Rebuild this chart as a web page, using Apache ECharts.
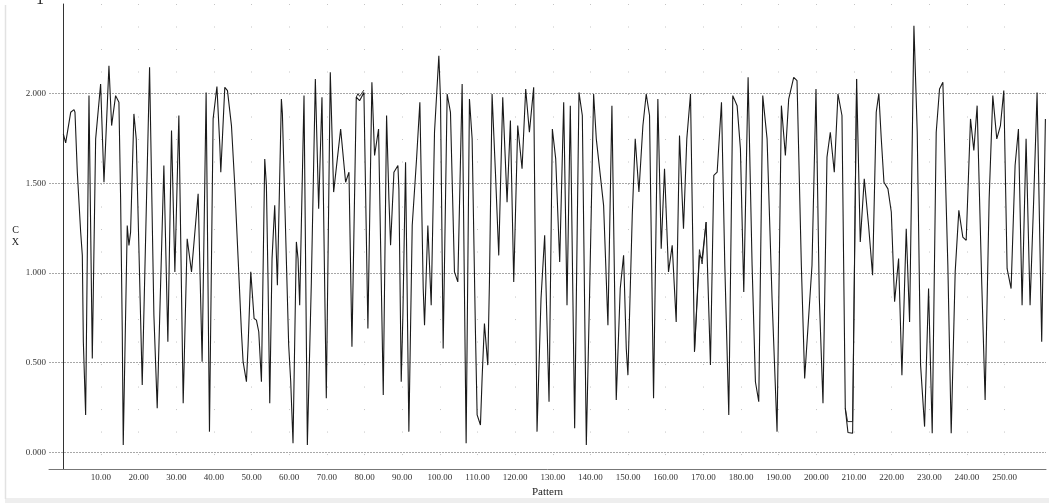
<!DOCTYPE html>
<html>
<head>
<meta charset="utf-8">
<script src="https://cdn.jsdelivr.net/npm/echarts@6/dist/echarts.min.js"></script>
<style>
html,body{margin:0;padding:0;background:#fff;}
#chart{width:1049px;height:503px;}
</style>
</head>
<body>
<div id="chart"></div>
<script>
// Pattern (x) values of the traced vertices, series A
var patternX = [0.0,0.63,1.96,2.84,3.1,3.72,4.61,5.05,5.32,5.93,6.82,7.7,8.59,9.91,10.8,12.12,12.83,13.89,14.77,15.22,15.66,15.92,16.98,17.43,17.87,18.75,19.37,20.96,22.91,24.06,24.94,26.71,27.77,28.74,29.63,30.69,31.84,32.9,34.05,35.81,36.87,37.93,38.82,39.79,40.8,41.57,41.83,42.89,43.6,44.66,45.54,46.43,47.31,47.75,48.64,49.08,49.79,50.67,51.29,51.91,52.62,53.5,53.94,54.38,54.83,55.44,56.15,56.86,57.92,58.19,58.8,59.86,60.4,61.01,61.9,62.34,62.78,63.93,64.82,65.88,66.94,67.82,68.7,69.85,70.91,71.8,73.66,74.98,75.87,76.66,77.81,78.69,79.84,80.9,81.96,82.67,83.73,84.98,85.86,86.48,86.92,87.81,88.87,89.13,89.75,90.19,90.9,91.78,92.67,93.82,94.7,95.59,95.94,96.82,97.71,98.59,99.74,100.18,100.89,101.95,102.83,103.89,104.78,105.93,106.99,107.87,108.58,109.46,109.91,110.79,111.23,111.85,112.74,113.18,113.88,114.77,115.65,116.71,117.86,118.75,119.63,120.69,121.84,122.81,123.79,124.93,125.82,126.88,127.85,129.01,129.89,130.78,131.84,132.9,133.78,134.66,135.81,136.96,137.85,138.91,139.79,140.85,141.56,143.5,144.65,145.71,146.86,147.92,148.81,149.52,149.96,151.11,151.9,152.88,153.94,154.82,155.7,156.77,157.91,158.8,159.68,160.74,161.72,162.78,163.66,164.72,165.6,166.58,167.64,168.96,169.67,170.73,171.88,172.77,173.66,174.81,175.69,176.75,177.81,178.96,179.84,180.73,181.88,182.94,183.82,184.71,185.77,186.92,188.24,189.57,190.72,191.78,192.66,193.99,194.87,196.02,196.9,198.85,199.91,200.8,201.77,202.83,203.71,204.77,205.75,206.81,207.69,208.4,209.64,210.7,211.67,212.73,213.88,214.94,215.91,216.6,217.25,217.96,219.02,219.91,220.79,221.85,222.73,223.88,224.77,225.92,226.8,227.69,228.75,229.81,230.78,231.84,232.72,233.61,234.93,235.82,236.88,237.85,238.91,239.8,240.95,241.83,242.71,243.95,244.83,245.9,246.87,247.93,248.9,249.79,250.67,251.73,252.79,253.68,254.65,255.71,256.77,257.74,258.63,259.86,260.84];
// CX values, series A
var cxA = [1.776,1.725,1.896,1.911,1.896,1.562,1.228,1.098,0.616,0.208,1.989,0.523,1.748,2.054,1.506,2.156,1.822,1.989,1.952,1.414,0.672,0.041,1.265,1.154,1.228,1.887,1.748,0.375,2.147,0.764,0.245,1.599,0.616,1.794,1.006,1.878,0.273,1.191,1.006,1.442,0.505,2.007,0.115,1.859,2.04,1.711,1.562,2.035,2.017,1.822,1.488,1.08,0.672,0.505,0.393,0.597,1.006,0.746,0.737,0.672,0.393,1.636,1.488,0.95,0.273,1.08,1.377,0.931,1.97,1.887,1.414,0.597,0.393,0.05,1.173,1.08,0.82,1.989,0.041,0.95,2.082,1.358,1.98,0.301,2.119,1.451,1.803,1.506,1.562,0.588,1.98,1.961,2.007,0.69,2.063,1.655,1.803,0.319,1.878,1.414,1.154,1.562,1.599,1.469,0.393,0.764,1.618,0.115,1.265,1.636,1.952,0.913,0.709,1.265,0.82,1.785,2.211,1.97,0.579,1.998,1.896,1.006,0.95,2.054,0.05,1.97,1.748,0.672,0.208,0.152,0.412,0.718,0.486,0.95,1.998,1.562,1.098,1.98,1.395,1.85,0.95,1.822,1.581,2.026,1.785,2.035,0.115,0.857,1.21,0.282,1.803,1.636,1.061,1.952,0.82,1.933,0.134,2.007,1.878,0.041,0.894,1.998,1.748,1.377,0.709,1.933,0.291,0.913,1.098,0.579,0.43,1.321,1.748,1.451,1.822,1.998,1.878,0.301,1.97,1.135,1.581,1.006,1.154,0.727,1.766,1.247,1.748,1.998,0.56,1.098,1.08,1.284,0.486,1.544,1.562,1.952,1.043,0.208,1.989,1.933,1.692,0.894,2.091,1.043,0.393,0.282,1.989,1.748,0.857,0.115,1.933,1.655,1.97,2.091,2.072,1.043,0.412,1.043,2.026,0.857,0.273,1.646,1.785,1.562,1.998,1.878,0.245,0.11,0.106,2.082,1.173,1.525,1.265,0.987,1.896,2.0,1.748,1.506,1.469,1.34,0.839,1.08,0.43,1.247,0.727,2.378,1.785,0.486,0.143,0.913,0.106,1.785,2.026,2.063,1.043,0.106,1.006,1.349,1.2,1.182,1.859,1.683,1.933,0.931,0.291,1.414,1.989,1.748,1.822,2.017,1.024,0.913,1.599,1.803,0.82,1.748,0.82,1.414,2.007,0.616,1.859];
// Series B: only where it separates visibly from A (null = gap)
var patternXB = [77.81,78.25,78.69,79.84,80.3,167.64,168.96,169.67,170.73,171.3,207.69,208.3,209.64,210.7];
var cxB = [1.98,2.0,1.985,2.02,null,0.56,1.13,1.05,1.284,null,0.245,0.171,0.171,2.082];
// Tick label text
var xTickLabels = ['10.00','20.00','30.00','40.00','50.00','60.00','70.00','80.00','90.00','100.00','110.00','120.00','130.00','140.00','150.00','160.00','170.00','180.00','190.00','200.00','210.00','220.00','230.00','240.00','250.00'];
var yTickLabels = ['0.000','0.500','1.000','1.500','2.000'];

var X_MIN = -3.8, X_MAX = 261, Y_MIN = -0.094, Y_MAX = 2.5;
var GRID = {left: 49, right: 2, top: 4, bottom: 32};
var plotH = 503 - GRID.top - GRID.bottom;
var dotPeriod = 0.125 * plotH / (Y_MAX - Y_MIN);

function pairs(xs, ys) {
  return xs.map(function (x, i) { return [x, ys[i] == null ? '-' : ys[i]]; });
}

// split line colours: ticks are [min, 0, 10, ..., 260, max]
var xSplitColors = ['transparent', 'transparent'];
for (var i = 0; i < xTickLabels.length; i++) xSplitColors.push('#c4c4c4');
xSplitColors.push('transparent', 'transparent');
var ySplitColors = ['transparent'];
for (var j = 0; j < yTickLabels.length; j++) ySplitColors.push('#a8a8a8');
ySplitColors.push('transparent');

var serif = 'Liberation Serif, Times New Roman, serif';
var chart = echarts.init(document.getElementById('chart'), null, {renderer: 'canvas'});
chart.setOption({
  animation: false,
  backgroundColor: '#ffffff',
  grid: GRID,
  graphic: [
    {type: 'rect', shape: {x: 5, y: 498, width: 1044, height: 5}, style: {fill: '#eeeeee'}, silent: true},
    {type: 'line', shape: {x1: 5.5, y1: 5, x2: 5.5, y2: 499}, style: {stroke: '#e2e2e2', lineWidth: 1.5}, silent: true},
    {type: 'text', x: 36, y: -8, style: {text: '1', font: '16px ' + serif, fill: '#222'}, silent: true}
  ],
  xAxis: {
    type: 'value',
    min: X_MIN, max: X_MAX, splitNumber: 26,
    name: 'Pattern', nameLocation: 'middle', nameGap: 17,
    nameTextStyle: {fontFamily: serif, fontSize: 11, color: '#222'},
    axisLine: {show: true, onZero: false, lineStyle: {color: '#777', width: 1}},
    axisTick: {show: false},
    axisLabel: {
      margin: 4, fontFamily: serif, fontSize: 9, color: '#333',
      formatter: function (v) {
        var s = v.toFixed(2);
        return xTickLabels.indexOf(s) >= 0 ? s : '';
      }
    },
    splitLine: {show: true, lineStyle: {color: xSplitColors, width: 1, type: [1, dotPeriod - 1]}}
  },
  yAxis: {
    type: 'value',
    min: Y_MIN, max: Y_MAX, splitNumber: 5,
    name: 'C\nX', nameLocation: 'middle', nameGap: 30, nameRotate: 0,
    nameTextStyle: {fontFamily: serif, fontSize: 10, color: '#222', lineHeight: 12},
    axisLine: {show: true, lineStyle: {color: '#333', width: 1}},
    axisTick: {show: false},
    axisLabel: {
      margin: 3, fontFamily: serif, fontSize: 9, color: '#333',
      formatter: function (v) {
        var s = v.toFixed(3);
        return yTickLabels.indexOf(s) >= 0 ? s : '';
      }
    },
    splitLine: {show: true, lineStyle: {color: ySplitColors, width: 1, type: [2, 1]}}
  },
  series: [
    {
      name: 'A', type: 'line', data: pairs(patternX, cxA),
      showSymbol: false, symbol: 'none', connectNulls: false,
      lineStyle: {color: '#1a1a1a', width: 1.1}, z: 3
    },
    {
      name: 'B', type: 'line', data: pairs(patternXB, cxB),
      showSymbol: false, symbol: 'none', connectNulls: false,
      lineStyle: {color: '#333', width: 1}, z: 2
    }
  ]
});
</script>
</body>
</html>
